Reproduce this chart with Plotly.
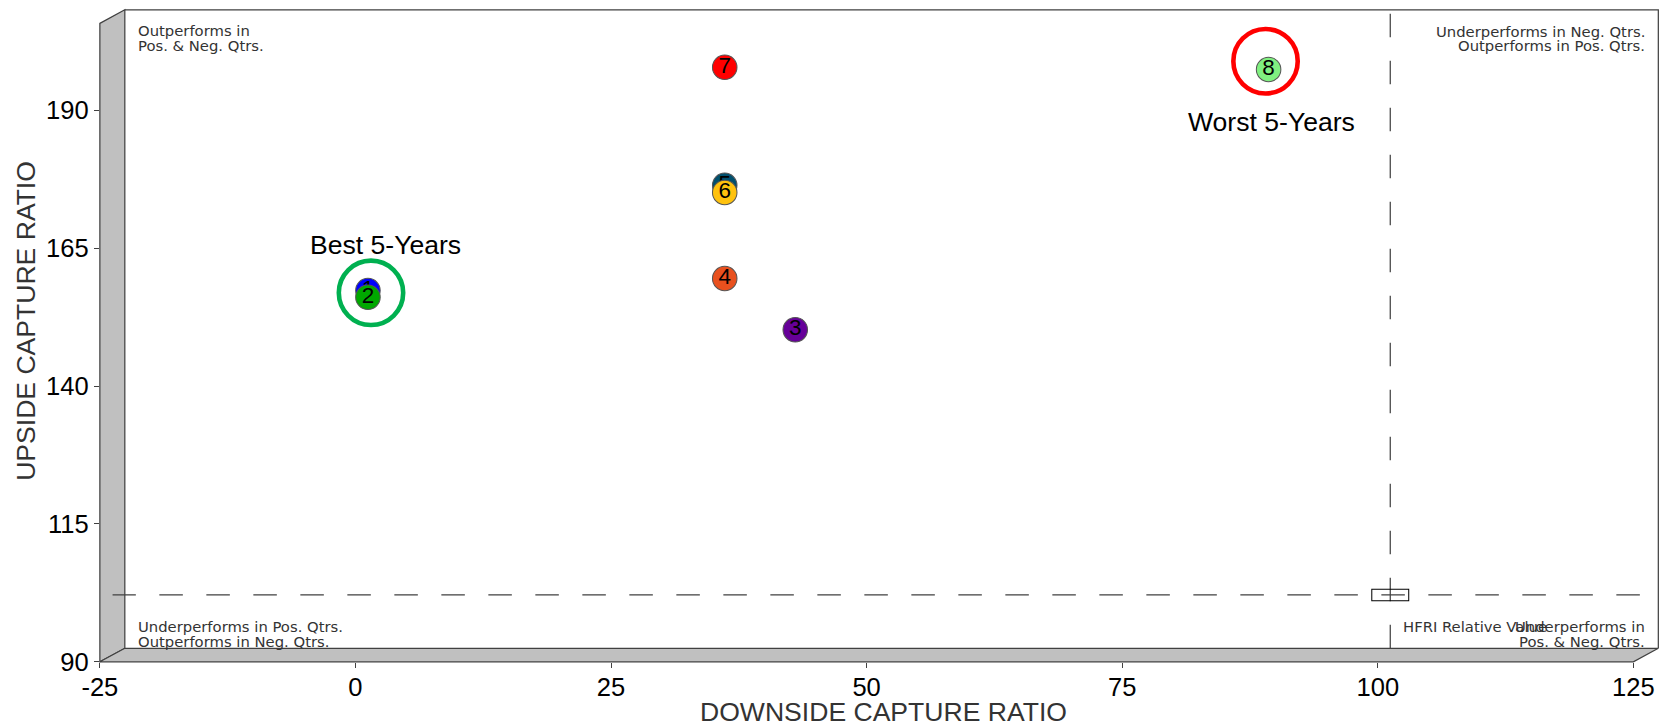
import plotly.graph_objects as go

# Layout is designed on the 1661x726 grid of the target picture (T coordinates).
# The captured page maps to the picture as  picture = SC * page + (OX, 0),
# so every target position is converted back to page pixels before drawing.
BASE_W, BASE_H = 1661, 726
H = 742
SC = BASE_H / H           # page -> picture scale
OX = 15                   # picture x offset
W = 1684
S = 1 / SC                # size multiplier for fonts, markers, line widths

# ---------------- data ----------------
point_ids = ["1", "2", "3", "4", "5", "6", "7", "8"]
downside_capture = [0.0, 0.0, 41.8, 34.9, 34.9, 34.9, 34.9, 88.1]
upside_capture = [156.1, 154.9, 149.0, 158.3, 175.2, 173.9, 196.6, 196.2]
point_colors = ["#0000ff", "#00a800", "#660099", "#e8501e",
                "#004f6e", "#ffc20e", "#ff0000", "#80f080"]

bench_name = ["HFRI Relative Value"]
bench_x = [100.0]
bench_y = [100.9]

ring_x = [0.3, 87.8]
ring_y = [155.7, 197.7]
ring_colors = ["#00b050", "#ff0000"]
ring_labels = ["Best 5-Years", "Worst 5-Years"]
ring_label_x = [1.7, 88.4]
ring_label_y = [164.3, 186.6]

x_ticks = [-25, 0, 25, 50, 75, 100, 125]
y_ticks = [90, 115, 140, 165, 190]
X_RANGE = [-25, 125]
Y_RANGE = [90, 205.8]

x_title = "DOWNSIDE CAPTURE RATIO"
y_title = "UPSIDE CAPTURE RATIO"
corner_texts = {
    "tl": ["Outperforms in", "Pos. & Neg. Qtrs."],
    "tr": ["Underperforms in Neg. Qtrs.", "Outperforms in Pos. Qtrs."],
    "bl": ["Underperforms in Pos. Qtrs.", "Outperforms in Neg. Qtrs."],
    "br": ["Underperforms in", "Pos. & Neg. Qtrs."],
}

# ---------------- geometry (target-grid pixels) ----------------
FL, FR, FB, FT = 97, 1633, 660, 23.3      # front plane
DX, DY = 25, 13.5                          # depth offset
BL, BR, BB, BT = FL + DX, FR + DX, FB - DY, FT - DY   # back plane
ML, MR, MB, MT = FL + DX / 2, FR + DX / 2, FB - DY / 2, FT - DY / 2  # mid plane (data)


def fx(tx):
    return ((tx - OX) / SC) / W


def fy(ty):
    return 1 - (ty / SC) / H


def P(px, py):
    return f"{fx(px):.6f},{fy(py):.6f}"


def s(v):
    return v * S


WALL = "#c0c0c0"
EDGE = "#404040"
TXT = "#333333"
SMALL_FONT = dict(family="DejaVu Sans", size=s(14.5), color=TXT)
BIG = "Liberation Sans, Arial, sans-serif"
DASH = f"{s(23):.1f}px,{s(23):.1f}px"

fig = go.Figure()

# data points, one trace each so that the label of a hidden point stays hidden
for pid, xv, yv, col in zip(point_ids, downside_capture, upside_capture, point_colors):
    fig.add_trace(go.Scatter(
        x=[xv], y=[yv], mode="markers+text", text=[pid],
        textposition="middle center",
        textfont=dict(family=BIG, size=s(22), color="#000000"),
        marker=dict(size=s(24), color=col, line=dict(color="#555555", width=s(1))),
        showlegend=False, xaxis="x", yaxis="y", cliponaxis=False,
        hoverinfo="skip",
    ))

# highlight rings
fig.add_trace(go.Scatter(
    x=ring_x, y=ring_y, mode="markers",
    marker=dict(symbol="circle-open", size=s(63), color=ring_colors,
                line=dict(width=s(4.5), color=ring_colors)),
    showlegend=False, xaxis="x", yaxis="y", cliponaxis=False, hoverinfo="skip",
))

# front (tick) axes: an empty trace so the subplot exists
fig.add_trace(go.Scatter(x=[None], y=[None], xaxis="x2", yaxis="y2",
                         showlegend=False, mode="markers", hoverinfo="skip"))

shapes = []
# dashed benchmark lines (drawn on the mid plane)
shapes.append(dict(type="line", xref="x", yref="paper",
                   x0=bench_x[0], x1=bench_x[0], y0=fy(BB), y1=fy(BT),
                   line=dict(color=EDGE, width=s(1.2), dash=DASH), layer="below"))
shapes.append(dict(type="line", xref="x", yref="y",
                   x0=X_RANGE[0], x1=X_RANGE[1], y0=bench_y[0], y1=bench_y[0],
                   line=dict(color=EDGE, width=s(1.2), dash=DASH), layer="below"))
# back plane borders
shapes.append(dict(type="path", xref="paper", yref="paper",
                   path=f"M {P(BL, BT)} L {P(BR, BT)} L {P(BR, BB)}",
                   line=dict(color=EDGE, width=s(1.2)), layer="below"))
# left wall
shapes.append(dict(type="path", xref="paper", yref="paper",
                   path=f"M {P(FL, FT)} L {P(BL, BT)} L {P(BL, BB)} L {P(FL, FB)} Z",
                   fillcolor=WALL, line=dict(color=EDGE, width=s(1.2)), layer="below"))
# floor
shapes.append(dict(type="path", xref="paper", yref="paper",
                   path=f"M {P(FL, FB)} L {P(BL, BB)} L {P(BR, BB)} L {P(FR, FB)} Z",
                   fillcolor=WALL, line=dict(color=EDGE, width=s(1.2)), layer="below"))
# benchmark box marker
bx_half = 37 / 2 / ((MR - ML) / (X_RANGE[1] - X_RANGE[0]))
by_half = 11.5 / 2 / ((MB - MT) / (Y_RANGE[1] - Y_RANGE[0]))
shapes.append(dict(type="rect", xref="x", yref="y",
                   x0=bench_x[0] - bx_half, x1=bench_x[0] + bx_half,
                   y0=bench_y[0] - by_half, y1=bench_y[0] + by_half,
                   line=dict(color="#000000", width=s(1)), fillcolor="rgba(0,0,0,0)",
                   layer="above"))

annotations = []


def small(text, px, py, anchor):
    annotations.append(dict(text=text, x=fx(px), y=fy(py), xref="paper", yref="paper",
                            xanchor=anchor, yanchor="middle", showarrow=False,
                            font=SMALL_FONT))


small(corner_texts["tl"][0], 133, 30.7, "left")
small(corner_texts["tl"][1], 133, 45.7, "left")
small(corner_texts["tr"][0], 1647, 31.7, "right")
small(corner_texts["tr"][1], 1647, 45.7, "right")
small(corner_texts["bl"][0], 133, 625, "left")
small(corner_texts["bl"][1], 133, 640, "left")
small(bench_name[0], 1400, 625, "left")
small(corner_texts["br"][0], 1647, 625, "right")
small(corner_texts["br"][1], 1647, 640, "right")

for lab, lx, ly in zip(ring_labels, ring_label_x, ring_label_y):
    annotations.append(dict(text=lab, x=lx, y=ly, xref="x", yref="y",
                            showarrow=False, xanchor="center", yanchor="middle",
                            font=dict(family=BIG, size=s(26), color="#000000")))

annotations.append(dict(text=x_title, x=fx(882), y=fy(710), xref="paper", yref="paper",
                        showarrow=False, xanchor="center", yanchor="middle",
                        font=dict(family=BIG, size=s(26), color=TXT)))
annotations.append(dict(text=y_title, x=fx(23), y=fy(320), xref="paper", yref="paper",
                        showarrow=False, xanchor="center", yanchor="middle", textangle=-90,
                        font=dict(family=BIG, size=s(26), color=TXT)))

fig.update_layout(
    width=W, height=H, autosize=False,
    margin=dict(l=0, r=0, t=0, b=0, pad=0),
    paper_bgcolor="white", plot_bgcolor="rgba(0,0,0,0)",
    hovermode=False,
    shapes=shapes, annotations=annotations,
    xaxis=dict(domain=[fx(ML), fx(MR)], range=X_RANGE, visible=False, anchor="y"),
    yaxis=dict(domain=[fy(MB), fy(MT)], range=Y_RANGE, visible=False, anchor="x"),
    xaxis2=dict(domain=[fx(FL), fx(FR)], range=X_RANGE, anchor="y2",
                tickvals=x_ticks, ticktext=[str(v) for v in x_ticks],
                ticks="outside", ticklen=s(5), tickcolor=EDGE, tickwidth=s(1),
                ticklabelstandoff=-3, ticklabeloverflow="allow",
                showgrid=False, zeroline=False, showline=False,
                tickfont=dict(family=BIG, size=s(25), color="#000000")),
    yaxis2=dict(domain=[fy(FB), fy(FT)], range=Y_RANGE, anchor="x2",
                tickvals=y_ticks, ticktext=[str(v) for v in y_ticks],
                ticks="outside", ticklen=s(5), tickcolor=EDGE, tickwidth=s(1),
                ticklabeloverflow="allow",
                showgrid=False, zeroline=False, showline=False,
                tickfont=dict(family=BIG, size=s(25), color="#000000")),
)

fig.write_html(
    "out.html",
    config={"displayModeBar": False, "staticPlot": True, "responsive": False},
    post_script=(
        "document.documentElement.style.margin='0';"
        "document.body.style.margin='0';document.body.style.padding='0';"
    ),
)
